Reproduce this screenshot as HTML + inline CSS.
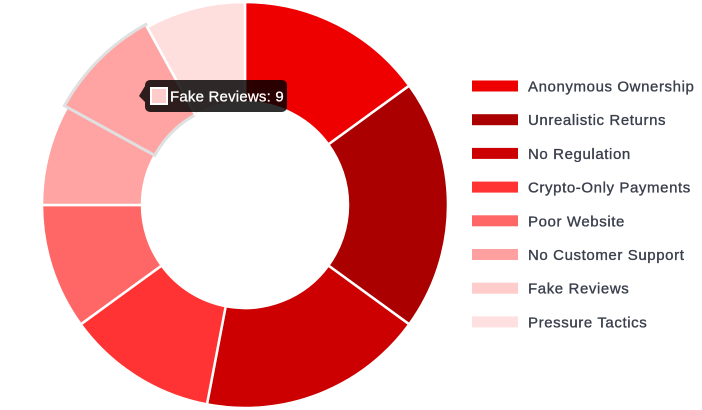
<!DOCTYPE html>
<html><head><meta charset="utf-8"><style>
body{margin:0;background:#fff;width:702px;height:410px;overflow:hidden;font-family:"Liberation Sans",Arial,sans-serif}
svg{position:absolute;left:0;top:0}
</style></head><body>
<svg id="s" width="702" height="410" viewBox="0 0 702 410"></svg>
<script>
var s=document.getElementById('s');
var cx=245,cy=205,R=203,r=103;
var vals=[15,20,18,12,10,8,9,8];
var cols=['#ee0000','#aa0000','#cc0000','#ff3333','#ff6666','#ffa3a3','#ffa3a3','#ffdede'];
var tot=100,a=0,h='';
function pt(rad,ang){var t=ang*Math.PI/180;return (cx+rad*Math.sin(t)).toFixed(2)+','+(cy-rad*Math.cos(t)).toFixed(2);}
for(var i=0;i<vals.length;i++){
 var b=a+vals[i]/tot*360,RR=i==6?R+3:R,lg=(b-a)>180?1:0;
 var d='M'+pt(RR,a)+'A'+RR+','+RR+' 0 '+lg+' 1 '+pt(RR,b)+'L'+pt(r,b)+'A'+r+','+r+' 0 '+lg+' 0 '+pt(r,a)+'Z';
 h+='<path d="'+d+'" fill="'+cols[i]+'" stroke="'+(i==6?'#e0e0e0':'#fff')+'" stroke-width="'+(i==6?3:2.5)+'"/>';
 a=b;
}
var names=['Anonymous Ownership','Unrealistic Returns','No Regulation','Crypto-Only Payments','Poor Website','No Customer Support','Fake Reviews','Pressure Tactics'];
var lc=['#ee0000','#aa0000','#cc0000','#ff3333','#ff6666','#ffa0a0','#ffcccc','#ffe0e0'];
for(var i=0;i<8;i++){var y=86+i*33.7;
 h+='<rect x="472" y="'+(y-5.5)+'" width="46" height="11" fill="'+lc[i]+'"/>';
 h+='<text x="528" y="'+(y+5.5)+'" font-size="15" letter-spacing="0.6" fill="#3a3f4c" stroke="#3a3f4c" stroke-width="0.35" font-family="Liberation Sans, Arial, sans-serif">'+names[i]+'</text>';}
h+='<path d="M145,86 L139,96 L145,102 Z" fill="rgba(0,0,0,0.82)"/>';
h+='<rect x="145" y="80" width="142" height="32" rx="5" fill="rgba(0,0,0,0.82)"/>';
h+='<rect x="151" y="88" width="16" height="16" fill="#ffcccc" stroke="#fff" stroke-width="2"/>';
h+='<text x="170" y="101.5" font-size="15" letter-spacing="0.2" fill="#fff" stroke="#fff" stroke-width="0.3" font-family="Liberation Sans, Arial, sans-serif">Fake Reviews: 9</text>';
s.innerHTML=h;
</script>
</body></html>
